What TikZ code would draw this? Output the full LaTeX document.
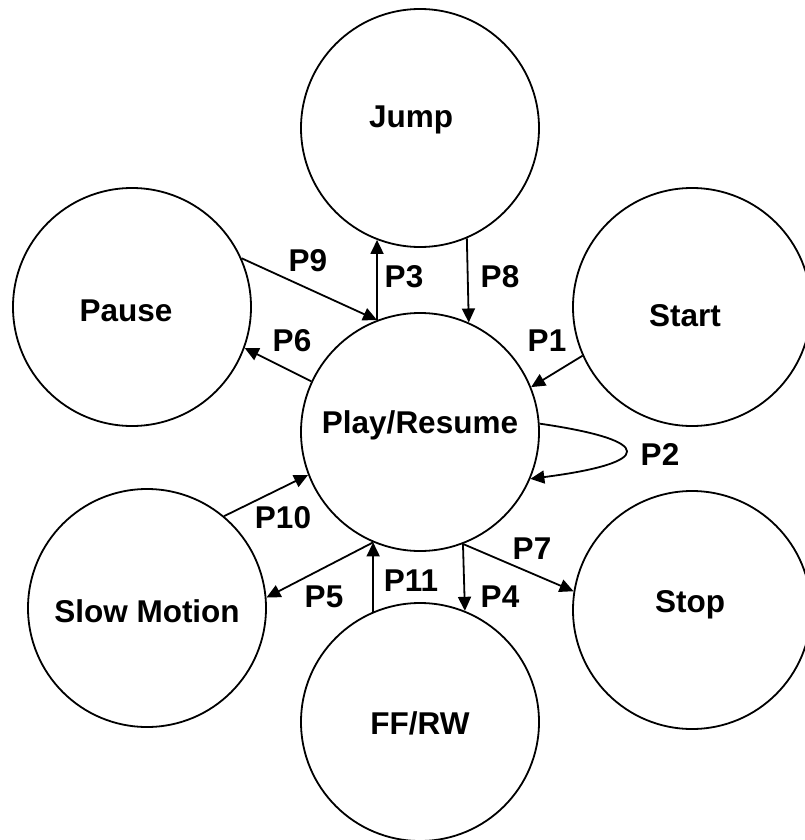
\documentclass[tikz,border=0pt]{standalone}
\usepackage{fontspec}
\setmainfont{Liberation Sans}
\usetikzlibrary{arrows.meta}
\begin{document}
\begin{tikzpicture}[x=1pt,y=-1pt,
  state/.style={draw,circle,line width=1.8pt,minimum size=238pt,inner sep=0pt},
  txt/.style={inner sep=0pt,font=\fontsize{31.5}{37}\selectfont\bfseries},
  conn/.style={line width=1.8pt,-{Triangle[length=14pt,width=13pt]}}]
\useasboundingbox (0,0) rectangle (804,840);
\node[state] (jump)  at (420,128) {};
\node[state] (pause) at (132,307) {};
\node[state] (start) at (692,307) {};
\node[state] (play)  at (420,432) {};
\node[state] (slow)  at (147,608) {};
\node[state] (stop)  at (692,610) {};
\node[state] (ff)    at (420,722) {};
\node[txt] (jumpl)  at (411,120) {Jump};
\node[txt] (pausel) at (126,311) {Pause};
\node[txt] (startl) at (685,316) {Start};
\node[txt] (playl)  at (420,425) {Play/Resume};
\node[txt] (slowl)  at (147,611) {Slow Motion};
\node[txt] (stopl)  at (690,605) {Stop};
\node[txt] (ffl)    at (420,723) {FF/RW};
% connectors
\draw[conn] (play.111) -- (jump.249);
\draw[conn] (jump.293.5) -- (play.66.5);
\draw[conn] (pause.24) -- (play.111);
\draw[conn] (play.155.6) -- (pause.340);
\draw[conn] (start.204) -- (play.22);
\draw[conn] (play.4) .. controls +(117,17) and +(124,-16) .. (play.337);
\draw[conn] (slow.50) -- (play.201);
\draw[conn] (play.247) -- (slow.5);
\draw[conn] (ff.113) -- (play.247);
\draw[conn] (play.291.5) -- (ff.68.5);
\draw[conn] (play.291.5) -- (stop.171);
% labels
\node[txt] (l9)  at (308,261) {P9};
\node[txt] (l3)  at (404,277) {P3};
\node[txt] (l8)  at (500,277) {P8};
\node[txt] (l6)  at (292,341) {P6};
\node[txt] (l1)  at (547,341) {P1};
\node[txt] (l2)  at (660,454) {P2};
\node[txt] (l10) at (283,518) {P10};
\node[txt] (l11) at (411,581) {P11};
\node[txt] (l5)  at (324,597) {P5};
\node[txt] (l4)  at (500,597) {P4};
\node[txt] (l7)  at (532,549) {P7};
\end{tikzpicture}
\end{document}
